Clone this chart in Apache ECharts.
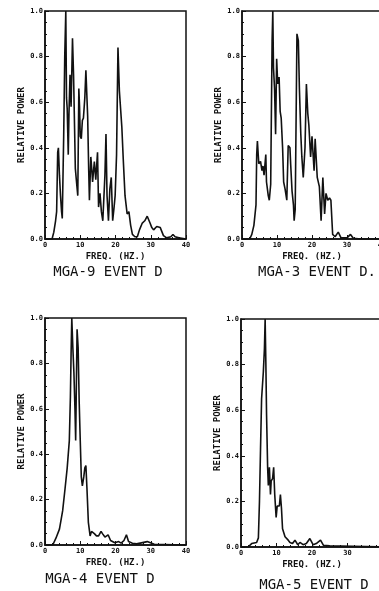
<!DOCTYPE html>
<html>
<head>
<meta charset="utf-8">
<script src="https://cdn.jsdelivr.net/npm/echarts@6/dist/echarts.min.js"></script>
<style>
  html, body {margin: 0; padding: 0; background: #fff;}
  #chart {width: 379px; height: 591px;}
</style>
</head>
<body>
<div id="chart"></div>
<script>
// panel titles and tick labels
const titles = ['MGA-9 EVENT D', 'MGA-3 EVENT D.', 'MGA-4 EVENT D', 'MGA-5 EVENT D'];
const freqTicks = [0, 10, 20, 30, 40];
const powerTicks = [0.0, 0.2, 0.4, 0.6, 0.8, 1.0];

// MGA-9
const mga9Freq = [0, 2, 2.5, 3.0, 3.3, 3.6, 3.8, 4.1, 4.4, 4.7, 4.9, 5.3, 5.6, 5.9, 6.1, 6.3, 6.6, 6.8, 7.1, 7.4,
  7.8, 8.1, 8.4, 8.6, 9.0, 9.3, 9.6, 9.8, 10.0, 10.3, 10.6, 10.9, 11.3, 11.6, 12.1, 12.4, 12.6, 13.0, 13.3, 13.5,
  14.0, 14.4, 14.9, 15.2, 15.6, 16.0, 16.4, 17.0, 17.3, 17.6, 18.0, 18.4, 18.8, 19.2, 19.6, 19.9, 20.3, 20.7, 21.1,
  21.8, 22.2, 22.7, 23.3, 23.8, 24.3, 24.8, 25.5, 26.2, 26.8, 27.6, 28.3, 29.0, 29.8, 30.3, 30.8, 31.7, 32.7, 33.6,
  34.5, 35.7, 36.3, 36.9, 38, 40];
const mga9Power = [0, 0, 0.03, 0.08, 0.12, 0.38, 0.40, 0.28, 0.19, 0.12, 0.09, 0.45, 0.80, 1.0, 0.62, 0.57, 0.37, 0.55, 0.72, 0.58,
  0.88, 0.72, 0.48, 0.31, 0.24, 0.19, 0.66, 0.58, 0.45, 0.44, 0.52, 0.53, 0.62, 0.74, 0.54, 0.30, 0.17, 0.36, 0.30, 0.25,
  0.34, 0.26, 0.38, 0.14, 0.20, 0.12, 0.08, 0.28, 0.46, 0.19, 0.08, 0.22, 0.27, 0.08, 0.14, 0.19, 0.37, 0.84, 0.65,
  0.49, 0.35, 0.19, 0.11, 0.12, 0.06, 0.02, 0.01, 0.01, 0.04, 0.07, 0.08, 0.10, 0.07, 0.05, 0.04, 0.055, 0.05, 0.015,
  0.005, 0.01, 0.02, 0.01, 0.005, 0];

// MGA-3
const mga3Freq = [0, 2.2, 2.8, 3.4, 4.0, 4.2, 4.4, 4.8, 5.3, 5.7, 6.0, 6.3, 6.8, 7.0, 7.5, 7.8, 8.2, 8.6, 8.8, 9.0,
  9.3, 9.6, 9.9, 10.2, 10.6, 10.9, 11.2, 11.6, 11.9, 12.3, 12.8, 13.2, 13.7, 13.9, 14.3, 14.7, 14.9, 15.2, 15.7, 16.1,
  16.4, 16.8, 17.1, 17.5, 18.0, 18.4, 18.8, 19.1, 19.6, 20.0, 20.6, 20.9, 21.5, 22.1, 22.6, 23.1, 23.6, 24.0, 24.5,
  25.0, 25.4, 25.9, 26.6, 27.5, 28.3, 30.0, 31.0, 31.8, 34, 40];
const mga3Power = [0, 0, 0.02, 0.06, 0.15, 0.37, 0.43, 0.33, 0.34, 0.30, 0.32, 0.28, 0.37, 0.25, 0.19, 0.17, 0.24, 0.87, 1.0, 0.75,
  0.66, 0.46, 0.79, 0.68, 0.71, 0.56, 0.53, 0.40, 0.25, 0.22, 0.17, 0.41, 0.40, 0.33, 0.21, 0.15, 0.08, 0.13, 0.90, 0.87,
  0.66, 0.46, 0.36, 0.27, 0.40, 0.68, 0.55, 0.50, 0.36, 0.45, 0.30, 0.44, 0.27, 0.23, 0.08, 0.27, 0.11, 0.20, 0.17,
  0.18, 0.17, 0.02, 0.01, 0.03, 0.005, 0.005, 0.02, 0.003, 0, 0];

// MGA-4
const mga4Freq = [0, 2.2, 3.1, 4.1, 5.0, 5.7, 6.3, 6.9, 7.2, 7.4, 7.6, 7.9, 8.2, 8.5, 8.7, 9.1, 9.4, 9.7, 10.0, 10.3,
  10.6, 11.0, 11.3, 11.6, 11.9, 12.3, 12.8, 13.2, 14.0, 14.6, 15.2, 15.9, 16.3, 17.0, 17.9, 18.6, 19.8, 20.9, 21.6,
  22.4, 23.1, 23.7, 24.8, 26, 29, 31, 40];
const mga4Power = [0, 0, 0.03, 0.07, 0.15, 0.25, 0.34, 0.46, 0.65, 0.84, 1.0, 0.87, 0.76, 0.60, 0.46, 0.95, 0.87, 0.63, 0.46, 0.30,
  0.26, 0.30, 0.34, 0.35, 0.25, 0.10, 0.04, 0.06, 0.05, 0.04, 0.04, 0.06, 0.05, 0.035, 0.045, 0.02, 0.01, 0.015, 0.008,
  0.02, 0.045, 0.015, 0.008, 0.005, 0.015, 0.003, 0];

// MGA-5
const mga5Freq = [0, 2.0, 3.0, 4.4, 4.9, 5.2, 5.5, 5.8, 6.3, 6.6, 6.8, 7.0, 7.2, 7.5, 7.7, 8.0, 8.3, 8.5, 8.9, 9.2,
  9.5, 9.9, 10.2, 10.8, 11.1, 11.4, 11.7, 12.4, 13.3, 13.8, 14.5, 15.2, 16.0, 16.6, 17.5, 18.4, 19.4, 20.3, 21.2,
  22.4, 23.2, 25, 28, 40];
const mga5Power = [0, 0, 0.015, 0.02, 0.04, 0.20, 0.43, 0.65, 0.77, 0.87, 1.0, 0.81, 0.58, 0.35, 0.27, 0.35, 0.23, 0.29, 0.30, 0.35,
  0.23, 0.13, 0.18, 0.18, 0.23, 0.17, 0.08, 0.045, 0.03, 0.02, 0.015, 0.03, 0.01, 0.02, 0.01, 0.015, 0.037, 0.01, 0.015,
  0.03, 0.008, 0.005, 0.004, 0];

const panels = [
  {freq: mga9Freq, power: mga9Power, grid: {left: 45, top: 11, width: 141, height: 228}, title: [108, 265]},
  {freq: mga3Freq, power: mga3Power, grid: {left: 242, top: 11, width: 140, height: 228}, title: [317, 265]},
  {freq: mga4Freq, power: mga4Power, grid: {left: 45, top: 318, width: 141, height: 227}, title: [100, 572]},
  {freq: mga5Freq, power: mga5Power, grid: {left: 241, top: 319, width: 142, height: 228}, title: [314, 578]},
];

const ink = '#111';
const mono = 'DejaVu Sans Mono';
const chart = echarts.init(document.getElementById('chart'));

chart.setOption({
  animation: false,
  backgroundColor: '#fff',
  title: panels.map((p, i) => ({
    text: titles[i],
    left: p.title[0],
    top: p.title[1],
    padding: 0,
    textAlign: 'center',
    textStyle: {fontFamily: mono, fontSize: 14, fontWeight: 'normal', color: ink},
  })),
  grid: panels.map(p => ({
    ...p.grid,
    outerBoundsMode: 'none',
    containLabel: false,
    show: true,
    borderColor: ink,
    borderWidth: 1.5,
    backgroundColor: 'transparent',
  })),
  xAxis: panels.map((p, i) => ({
    type: 'value',
    gridIndex: i,
    min: freqTicks[0],
    max: freqTicks[freqTicks.length - 1],
    interval: 10,
    name: 'FREQ. (HZ.)',
    nameLocation: 'middle',
    nameGap: 13,
    nameTextStyle: {fontFamily: mono, fontSize: 9, fontWeight: 'bold', color: ink},
    axisLine: {lineStyle: {color: ink, width: 1.5}},
    axisTick: {inside: true, length: 4, lineStyle: {color: ink}},
    minorTick: {show: true, splitNumber: 5, length: 2, lineStyle: {color: ink}},
    splitLine: {show: false},
    axisLabel: {fontFamily: mono, fontSize: 7, fontWeight: 'bold', color: ink, margin: 3},
  })),
  yAxis: panels.map((p, i) => ({
    type: 'value',
    gridIndex: i,
    min: powerTicks[0],
    max: powerTicks[powerTicks.length - 1],
    interval: 0.2,
    name: 'RELATIVE POWER',
    nameLocation: 'middle',
    nameGap: 19,
    nameTextStyle: {fontFamily: mono, fontSize: 9, fontWeight: 'bold', color: ink},
    axisLine: {lineStyle: {color: ink, width: 1.5}},
    axisTick: {inside: true, length: 4, lineStyle: {color: ink}},
    minorTick: {show: true, splitNumber: 4, length: 2, lineStyle: {color: ink}},
    splitLine: {show: false},
    axisLabel: {fontFamily: mono, fontSize: 7, fontWeight: 'bold', color: ink, margin: 2,
      formatter: v => v.toFixed(1)},
  })),
  series: panels.map((p, i) => ({
    type: 'line',
    xAxisIndex: i,
    yAxisIndex: i,
    data: p.freq.map((f, k) => [f, p.power[k]]),
    symbol: 'none',
    lineStyle: {color: ink, width: 1.6},
  })),
});
</script>
</body>
</html>
